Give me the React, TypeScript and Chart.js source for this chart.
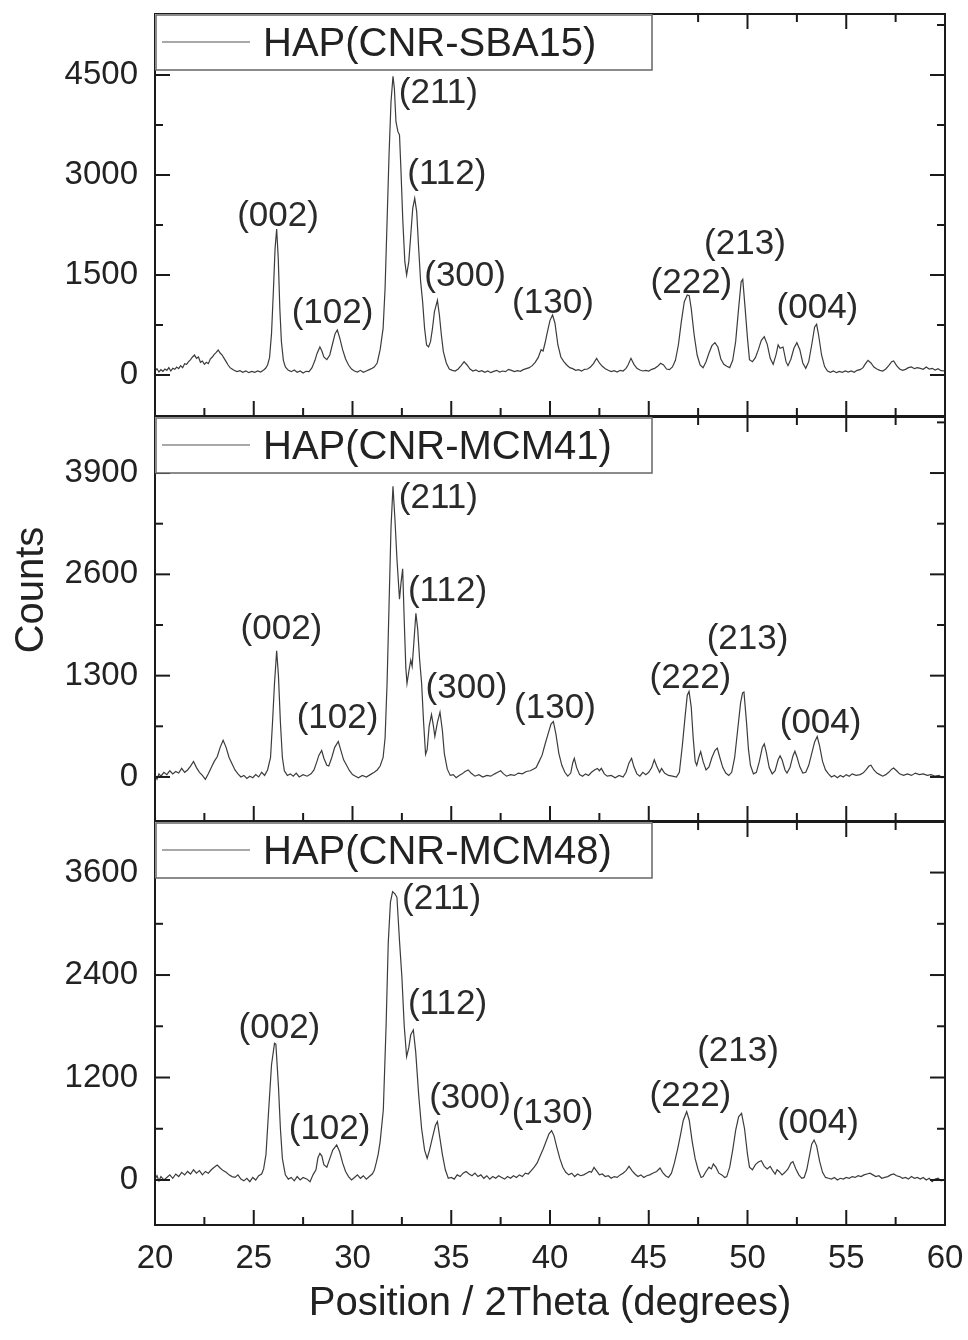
import React, { useEffect, useRef } from 'react';
import { Chart, registerables } from 'chart.js';

Chart.register(...registerables);

const FONT = "'Liberation Sans', Arial, Helvetica, sans-serif";
const TEXT_COLOR = '#222222';
const LINE_COLOR = '#3c3c3c';
const AXIS_COLOR = '#1a1a1a';

const xMajorTicks = [20, 25, 30, 35, 40, 45, 50, 55, 60];
const xMinorTicks = [22.5, 27.5, 32.5, 37.5, 42.5, 47.5, 52.5, 57.5];
const xTitle = 'Position / 2Theta (degrees)';
const yTitle = 'Counts';

const sbaYTicks = [0, 1500, 3000, 4500];
const mcm41YTicks = [0, 1300, 2600, 3900];
const mcm48YTicks = [0, 1200, 2400, 3600];

// [2theta, counts]
const sba15Points: [number, number][] = [
  [20.0,60],[20.1,95],[20.2,45],[20.3,80],[20.4,55],[20.5,90],[20.6,70],[20.7,110],[20.8,60],[20.9,100],
  [21.0,85],[21.1,120],[21.2,95],[21.3,140],[21.4,110],[21.5,170],[21.6,160],[21.7,200],[21.8,230],[21.9,270],
  [22.0,300],[22.1,250],[22.2,270],[22.3,190],[22.4,210],[22.5,160],[22.6,190],[22.7,170],[22.8,240],[22.9,270],
  [23.0,310],[23.1,340],[23.2,375],[23.3,330],[23.4,300],[23.5,250],[23.6,200],[23.7,150],[23.8,110],[23.9,90],
  [24.0,70],[24.15,50],[24.3,65],[24.45,40],[24.6,60],[24.75,35],[24.9,55],[25.05,40],[25.2,60],[25.35,45],
  [25.5,75],[25.6,100],[25.7,150],[25.8,260],[25.9,620],[26.0,1300],[26.08,1900],[26.16,2190],[26.24,1750],[26.32,1000],
  [26.4,500],[26.5,220],[26.6,120],[26.75,70],[26.9,50],[27.05,75],[27.2,40],[27.35,60],[27.5,30],[27.65,55],
  [27.8,50],[27.95,110],[28.1,220],[28.2,320],[28.35,420],[28.45,360],[28.55,270],[28.7,230],[28.85,300],[29.0,480],
  [29.12,620],[29.23,675],[29.35,560],[29.5,380],[29.65,240],[29.8,150],[29.95,90],[30.1,60],[30.25,45],[30.4,70],
  [30.55,40],[30.7,60],[30.85,80],[31.0,100],[31.1,120],[31.25,180],[31.4,380],[31.55,700],[31.65,1300],[31.75,2300],
  [31.85,3300],[31.95,4100],[32.05,4480],[32.12,4300],[32.2,3800],[32.3,3650],[32.38,3600],[32.45,3100],[32.55,2300],[32.65,1700],
  [32.74,1500],[32.85,1700],[32.95,2100],[33.05,2500],[33.15,2650],[33.25,2450],[33.35,1900],[33.45,1400],[33.55,1100],[33.65,700],
  [33.75,450],[33.85,420],[33.95,500],[34.05,700],[34.15,950],[34.3,1120],[34.4,900],[34.5,600],[34.6,350],[34.75,180],
  [34.9,90],[35.05,70],[35.2,60],[35.35,90],[35.5,140],[35.65,200],[35.8,150],[35.95,90],[36.1,60],[36.25,75],
  [36.4,50],[36.55,65],[36.7,40],[36.85,60],[37.0,35],[37.15,55],[37.3,70],[37.45,45],[37.6,60],[37.75,50],
  [37.9,85],[38.05,70],[38.2,50],[38.35,65],[38.5,55],[38.65,80],[38.8,95],[38.95,110],[39.1,140],[39.25,190],
  [39.4,260],[39.55,380],[39.65,360],[39.75,480],[39.85,620],[40.0,820],[40.13,900],[40.25,780],[40.4,450],[40.55,270],
  [40.7,200],[40.85,150],[41.0,110],[41.15,95],[41.3,70],[41.45,80],[41.6,60],[41.75,85],[41.9,90],[42.05,120],
  [42.2,170],[42.36,250],[42.5,180],[42.65,130],[42.8,95],[42.95,70],[43.1,50],[43.25,65],[43.4,45],[43.55,70],
  [43.7,60],[43.85,100],[43.95,150],[44.1,250],[44.25,160],[44.4,100],[44.55,75],[44.7,60],[44.85,70],[45.0,60],
  [45.15,85],[45.3,100],[45.45,130],[45.6,175],[45.75,150],[45.9,90],[46.05,80],[46.2,120],[46.35,220],[46.5,450],
  [46.65,800],[46.8,1100],[46.95,1200],[47.05,1190],[47.15,1000],[47.3,600],[47.45,300],[47.6,150],[47.75,110],[47.9,200],
  [48.05,330],[48.2,440],[48.35,485],[48.5,420],[48.65,240],[48.8,160],[48.95,130],[49.1,110],[49.25,220],[49.4,500],
  [49.55,1000],[49.68,1400],[49.76,1435],[49.88,1000],[50.0,550],[50.1,230],[50.25,200],[50.4,260],[50.55,380],[50.7,520],
  [50.85,575],[51.0,460],[51.15,250],[51.3,160],[51.45,310],[51.55,450],[51.65,400],[51.8,420],[51.95,200],[52.05,140],
  [52.2,240],[52.35,400],[52.5,485],[52.65,380],[52.8,180],[52.95,100],[53.1,200],[53.25,450],[53.4,720],[53.5,760],
  [53.6,600],[53.75,300],[53.9,130],[54.05,60],[54.2,40],[54.35,60],[54.5,35],[54.65,55],[54.8,40],[54.95,60],
  [55.1,45],[55.25,60],[55.4,40],[55.55,70],[55.7,80],[55.85,110],[55.95,160],[56.1,220],[56.25,180],[56.4,120],
  [56.55,90],[56.7,70],[56.85,60],[57.0,90],[57.15,140],[57.3,200],[57.4,210],[57.55,140],[57.7,90],[57.85,70],
  [58.0,85],[58.15,110],[58.3,120],[58.45,95],[58.6,110],[58.75,100],[58.9,85],[59.05,120],[59.2,90],[59.35,100],
  [59.5,75],[59.65,95],[59.8,65],[60.0,60],
];

const mcm41Points: [number, number][] = [
  [20.0,20],[20.1,-30],[20.2,40],[20.3,10],[20.45,60],[20.6,30],[20.75,80],[20.9,40],[21.05,70],[21.2,50],
  [21.35,110],[21.5,60],[21.65,90],[21.8,140],[21.95,200],[22.1,120],[22.25,60],[22.4,20],[22.55,-30],[22.7,40],
  [22.85,120],[23.0,200],[23.15,260],[23.3,380],[23.45,470],[23.6,380],[23.75,250],[23.9,170],[24.05,90],[24.2,40],
  [24.35,0],[24.5,20],[24.65,-20],[24.8,10],[24.95,-10],[25.1,30],[25.25,0],[25.4,60],[25.55,20],[25.7,90],
  [25.85,250],[25.95,700],[26.05,1200],[26.16,1620],[26.25,1300],[26.35,700],[26.45,250],[26.55,80],[26.7,20],[26.85,40],
  [27.0,10],[27.15,50],[27.3,0],[27.5,30],[27.7,10],[27.9,40],[28.05,90],[28.2,200],[28.3,280],[28.44,340],
  [28.55,240],[28.7,150],[28.8,140],[28.95,250],[29.1,380],[29.28,455],[29.4,350],[29.55,220],[29.7,150],[29.85,80],
  [30.0,30],[30.15,10],[30.3,-10],[30.5,20],[30.7,0],[30.9,30],[31.1,60],[31.25,90],[31.4,140],[31.55,250],
  [31.65,500],[31.75,1200],[31.85,2200],[31.95,3200],[32.05,3730],[32.15,3300],[32.25,2800],[32.38,2280],[32.46,2500],[32.54,2670],
  [32.62,2000],[32.7,1400],[32.76,1200],[32.85,1350],[32.95,1500],[33.02,1420],[33.1,1700],[33.21,2100],[33.3,1900],[33.4,1500],
  [33.5,1200],[33.6,700],[33.7,290],[33.78,350],[33.88,650],[34.0,800],[34.1,650],[34.17,520],[34.3,700],[34.43,830],
  [34.55,600],[34.65,300],[34.8,100],[34.95,20],[35.1,30],[35.25,-10],[35.4,20],[35.55,40],[35.7,70],[35.86,90],
  [36.0,50],[36.2,10],[36.4,30],[36.6,0],[36.8,20],[37.0,10],[37.2,40],[37.35,60],[37.5,80],[37.65,40],
  [37.8,10],[38.0,30],[38.2,20],[38.4,50],[38.6,40],[38.8,70],[39.0,80],[39.15,100],[39.3,120],[39.45,200],
  [39.6,280],[39.75,420],[39.9,550],[40.05,680],[40.17,712],[40.3,550],[40.45,300],[40.6,150],[40.75,60],[40.9,10],
  [41.05,50],[41.15,180],[41.23,240],[41.35,120],[41.5,30],[41.65,10],[41.8,40],[41.95,20],[42.1,60],[42.25,90],
  [42.4,110],[42.5,80],[42.6,110],[42.75,40],[42.9,10],[43.1,20],[43.3,-10],[43.5,20],[43.7,0],[43.85,60],
  [44.0,180],[44.13,240],[44.25,130],[44.4,40],[44.55,10],[44.7,60],[44.85,30],[45.0,60],[45.15,120],[45.28,220],
  [45.4,140],[45.55,60],[45.65,110],[45.8,50],[46.0,20],[46.2,10],[46.4,0],[46.55,60],[46.7,400],[46.85,800],
  [46.95,1050],[47.04,1098],[47.15,900],[47.25,500],[47.35,200],[47.43,150],[47.53,250],[47.63,326],[47.75,200],[47.9,90],
  [48.05,130],[48.2,250],[48.35,340],[48.47,370],[48.6,250],[48.75,120],[48.9,50],[49.05,20],[49.2,60],[49.35,250],
  [49.5,600],[49.65,950],[49.75,1080],[49.82,1090],[49.95,700],[50.05,350],[50.15,150],[50.3,40],[50.45,60],[50.6,200],
  [50.75,380],[50.85,425],[50.95,320],[51.1,120],[51.25,40],[51.4,80],[51.55,220],[51.65,270],[51.75,220],[51.9,90],
  [52.0,50],[52.15,120],[52.3,270],[52.4,330],[52.5,260],[52.65,130],[52.8,50],[52.95,60],[53.1,150],[53.25,300],
  [53.4,450],[53.53,519],[53.65,400],[53.8,200],[53.95,90],[54.1,40],[54.25,0],[54.4,20],[54.55,-10],[54.7,20],
  [54.85,0],[55.0,30],[55.15,10],[55.3,40],[55.5,20],[55.7,30],[55.85,50],[56.0,90],[56.15,140],[56.25,150],
  [56.4,90],[56.55,50],[56.7,30],[56.85,10],[57.0,30],[57.15,60],[57.3,100],[57.4,115],[57.55,80],[57.7,40],
  [57.9,20],[58.1,40],[58.3,20],[58.5,50],[58.7,30],[58.9,40],[59.1,20],[59.3,30],[59.5,10],[59.7,20],
  [59.85,-10],[60.0,10],
];

const mcm48Points: [number, number][] = [
  [20.0,10],[20.1,50],[20.2,-10],[20.3,40],[20.45,0],[20.6,30],[20.75,60],[20.9,20],[21.05,70],[21.2,40],
  [21.35,90],[21.5,60],[21.65,100],[21.8,70],[21.95,120],[22.1,80],[22.25,110],[22.4,60],[22.55,100],[22.7,80],
  [22.85,120],[23.0,150],[23.15,175],[23.3,140],[23.45,110],[23.6,90],[23.75,60],[23.9,40],[24.05,30],[24.2,60],
  [24.35,10],[24.5,-10],[24.65,20],[24.8,-20],[24.95,30],[25.1,0],[25.25,50],[25.4,70],[25.5,130],[25.62,300],
  [25.75,800],[25.9,1350],[26.05,1600],[26.12,1590],[26.25,1100],[26.35,600],[26.45,250],[26.6,60],[26.75,10],[26.9,30],
  [27.05,-10],[27.2,40],[27.35,0],[27.5,30],[27.7,10],[27.85,-20],[28.0,60],[28.15,120],[28.25,260],[28.35,312],
  [28.45,280],[28.55,180],[28.7,150],[28.85,250],[29.0,350],[29.2,410],[29.35,330],[29.5,200],[29.65,100],[29.8,40],
  [29.95,0],[30.1,30],[30.25,60],[30.4,20],[30.55,50],[30.7,10],[30.85,40],[31.0,70],[31.1,110],[31.2,200],
  [31.3,300],[31.4,450],[31.56,820],[31.7,1800],[31.81,2775],[31.92,3250],[32.03,3376],[32.15,3350],[32.25,3310],[32.38,2800],
  [32.5,2380],[32.62,1800],[32.74,1444],[32.85,1550],[32.95,1700],[33.08,1757],[33.2,1500],[33.35,1000],[33.5,600],[33.65,350],
  [33.78,254],[33.9,350],[34.05,500],[34.2,640],[34.3,683],[34.42,500],[34.55,300],[34.7,120],[34.85,20],[35.0,30],
  [35.15,10],[35.3,60],[35.45,40],[35.6,80],[35.75,100],[35.9,70],[36.05,50],[36.2,80],[36.35,40],[36.5,60],
  [36.65,20],[36.8,50],[36.95,10],[37.1,40],[37.25,20],[37.4,50],[37.55,30],[37.7,10],[37.85,40],[38.0,20],
  [38.15,50],[38.3,30],[38.45,60],[38.6,40],[38.75,80],[38.9,70],[39.05,110],[39.2,150],[39.35,200],[39.5,280],
  [39.65,360],[39.8,450],[39.95,540],[40.08,578],[40.2,520],[40.35,380],[40.5,250],[40.65,150],[40.8,90],[40.95,60],
  [41.1,80],[41.25,40],[41.4,70],[41.55,50],[41.7,60],[41.85,80],[42.0,100],[42.1,90],[42.23,148],[42.35,110],
  [42.5,60],[42.65,70],[42.8,40],[42.95,50],[43.1,20],[43.25,40],[43.4,30],[43.55,60],[43.7,80],[43.85,110],
  [44.0,160],[44.15,110],[44.3,70],[44.45,40],[44.6,60],[44.75,30],[44.9,50],[45.05,60],[45.2,80],[45.4,100],
  [45.57,140],[45.7,90],[45.85,50],[46.0,30],[46.15,80],[46.3,200],[46.45,350],[46.6,520],[46.75,700],[46.92,800],
  [47.05,700],[47.2,450],[47.35,250],[47.5,120],[47.65,30],[47.75,40],[47.9,100],[48.05,150],[48.17,130],[48.27,187],
  [48.4,150],[48.55,80],[48.7,60],[48.85,30],[48.95,40],[49.1,150],[49.25,350],[49.4,580],[49.55,740],[49.7,781],
  [49.85,600],[50.0,300],[50.1,150],[50.25,120],[50.4,180],[50.55,210],[50.7,226],[50.85,160],[51.0,130],[51.15,160],
  [51.3,100],[51.4,70],[51.5,120],[51.6,100],[51.75,60],[51.9,90],[52.05,130],[52.2,200],[52.3,215],[52.45,130],
  [52.6,60],[52.75,20],[52.87,30],[53.0,120],[53.15,300],[53.25,420],[53.37,468],[53.5,400],[53.65,220],[53.8,90],
  [53.95,30],[54.1,20],[54.25,10],[54.4,30],[54.55,0],[54.7,20],[54.85,10],[55.0,30],[55.15,20],[55.3,40],
  [55.45,30],[55.6,50],[55.75,40],[55.9,60],[56.05,70],[56.2,80],[56.35,60],[56.5,40],[56.65,50],[56.8,20],
  [56.95,30],[57.1,40],[57.25,60],[57.4,70],[57.55,50],[57.7,40],[57.85,20],[58.0,30],[58.15,10],[58.3,40],
  [58.45,20],[58.6,30],[58.75,10],[58.9,30],[59.05,0],[59.2,20],[59.35,-20],[59.5,10],[59.65,20],[59.8,-10],
  [60.0,0],
];

// peak annotations: [text, 2theta (label centre), counts (label baseline)]
const sbaPeakLabels: [string, number, number][] = [
  ['(002)', 26.23, 2235], ['(102)', 28.99, 786], ['(211)', 34.35, 4080], ['(112)', 34.78, 2860],
  ['(300)', 35.70, 1335], ['(130)', 40.15, 936], ['(222)', 47.16, 1236], ['(213)', 49.87, 1815], ['(004)', 53.54, 861],
];
const mcm41PeakLabels: [string, number, number][] = [
  ['(002)', 26.40, 1767], ['(102)', 29.24, 634], ['(211)', 34.35, 3456], ['(112)', 34.81, 2258],
  ['(300)', 35.77, 1017], ['(130)', 40.25, 762], ['(222)', 47.11, 1147], ['(213)', 50.00, 1638], ['(004)', 53.70, 570],
];
const mcm48PeakLabels: [string, number, number][] = [
  ['(002)', 26.30, 1667], ['(102)', 28.84, 477], ['(211)', 34.51, 3170], ['(112)', 34.81, 1940],
  ['(300)', 35.95, 848], ['(130)', 40.13, 672], ['(222)', 47.11, 867], ['(213)', 49.52, 1394], ['(004)', 53.57, 555],
];

const sampleNames = ['HAP(CNR-SBA15)', 'HAP(CNR-MCM41)', 'HAP(CNR-MCM48)'];

const W = 968;
const H = 1340;
const PLOT_LEFT = 155;
const PLOT_RIGHT = 945;
const LEGEND_RIGHT = 652;
const LEGEND_H = 56;

interface Panel {
  name: string;
  points: [number, number][];
  yTicks: number[];
  yMin: number;
  yMax: number;
  labels: [string, number, number][];
  top: number;
  bottom: number;
}

const panels: Panel[] = [
  { name: sampleNames[0], points: sba15Points, yTicks: sbaYTicks, yMin: -615, yMax: 5415, labels: sbaPeakLabels, top: 14, bottom: 416 },
  { name: sampleNames[1], points: mcm41Points, yTicks: mcm41YTicks, yMin: -565, yMax: 4619, labels: mcm41PeakLabels, top: 417, bottom: 821 },
  { name: sampleNames[2], points: mcm48Points, yTicks: mcm48YTicks, yMin: -527, yMax: 4192, labels: mcm48PeakLabels, top: 822, bottom: 1225 },
];

function makeDecor(p: Panel, idx: number) {
  return {
    id: 'decor' + idx,
    afterDatasetsDraw(chart: any) {
      const ctx: CanvasRenderingContext2D = chart.ctx;
      const { left, right, top, bottom } = chart.chartArea;
      const xs = chart.scales.x;
      const ys = chart.scales.y;
      ctx.save();
      ctx.strokeStyle = AXIS_COLOR;
      ctx.lineWidth = 2;
      const seg = (x1: number, y1: number, x2: number, y2: number) => {
        ctx.beginPath();
        ctx.moveTo(x1, y1);
        ctx.lineTo(x2, y2);
        ctx.stroke();
      };
      const MAJ = 15, MIN = 8;
      xMajorTicks.forEach((v) => {
        const px = xs.getPixelForValue(v);
        seg(px, bottom, px, bottom - MAJ);
        seg(px, top, px, top + MAJ);
      });
      xMinorTicks.forEach((v) => {
        const px = xs.getPixelForValue(v);
        seg(px, bottom, px, bottom - MIN);
        seg(px, top, px, top + MIN);
      });
      const step = p.yTicks[1] - p.yTicks[0];
      p.yTicks.forEach((v) => {
        const py = ys.getPixelForValue(v);
        seg(left, py, left + MAJ, py);
        seg(right, py, right - MAJ, py);
      });
      for (let v = p.yTicks[0] + step / 2; v < p.yMax; v += step) {
        const py = ys.getPixelForValue(v);
        seg(left, py, left + MIN, py);
        seg(right, py, right - MIN, py);
      }
      // frame
      ctx.lineWidth = 2;
      ctx.strokeRect(left, top, right - left, bottom - top);

      // legend box
      ctx.fillStyle = '#ffffff';
      ctx.fillRect(left, top, LEGEND_RIGHT - left, LEGEND_H);
      ctx.strokeStyle = '#666666';
      ctx.lineWidth = 1.5;
      ctx.strokeRect(left + 1, top + 1, LEGEND_RIGHT - left - 1, LEGEND_H - 1);
      ctx.strokeStyle = '#555555';
      ctx.lineWidth = 1.2;
      seg(left + 7, top + 28, left + 95, top + 28);
      ctx.fillStyle = TEXT_COLOR;
      ctx.font = `40px ${FONT}`;
      ctx.textAlign = 'left';
      ctx.textBaseline = 'alphabetic';
      ctx.fillText(p.name, left + 108, top + 42);

      // peak labels
      ctx.fillStyle = '#2a2a2a';
      ctx.font = `35px ${FONT}`;
      ctx.textAlign = 'center';
      p.labels.forEach(([t, x, y]) => {
        ctx.fillText(t, xs.getPixelForValue(x), ys.getPixelForValue(y));
      });

      if (idx === 1) {
        ctx.save();
        ctx.translate(43, 590);
        ctx.rotate(-Math.PI / 2);
        ctx.font = `40px ${FONT}`;
        ctx.fillStyle = TEXT_COLOR;
        ctx.textAlign = 'center';
        ctx.textBaseline = 'alphabetic';
        ctx.fillText(yTitle, 0, 0);
        ctx.restore();
      }
      ctx.restore();
    },
  };
}

function makeConfig(p: Panel, idx: number): any {
  const isLast = idx === panels.length - 1;
  return {
    type: 'line',
    data: {
      datasets: [
        {
          label: p.name,
          data: p.points.map(([x, y]) => ({ x, y })),
          borderColor: LINE_COLOR,
          borderWidth: 1.2,
          pointRadius: 0,
          tension: 0,
          fill: false,
        },
      ],
    },
    options: {
      animation: false,
      responsive: false,
      maintainAspectRatio: false,
      events: [],
      layout: { padding: { top: p.top, left: 0, right: W - PLOT_RIGHT, bottom: 0 } },
      plugins: { legend: { display: false }, tooltip: { enabled: false }, title: { display: false } },
      scales: {
        x: {
          type: 'linear',
          position: 'bottom',
          min: 20,
          max: 60,
          grid: { display: false, drawTicks: false },
          border: { display: false },
          ticks: {
            display: isLast,
            autoSkip: false,
            maxRotation: 0,
            padding: 14,
            color: TEXT_COLOR,
            font: { family: FONT, size: 33 },
            callback: (v: any) => String(v),
          },
          title: {
            display: isLast,
            text: xTitle,
            color: TEXT_COLOR,
            font: { family: FONT, size: 40 },
            padding: { top: 0, bottom: 12 },
          },
          afterBuildTicks: (s: any) => {
            s.ticks = xMajorTicks.map((v) => ({ value: v }));
          },
          afterFit: (s: any) => {
            s.height = H - p.bottom;
            s.paddingLeft = 0;
            s.paddingRight = 0;
          },
        },
        y: {
          type: 'linear',
          position: 'left',
          min: p.yMin,
          max: p.yMax,
          grid: { display: false, drawTicks: false },
          border: { display: false },
          ticks: {
            padding: 17,
            color: TEXT_COLOR,
            font: { family: FONT, size: 33 },
            callback: (v: any) => String(v),
          },
          afterBuildTicks: (s: any) => {
            s.ticks = p.yTicks.map((v) => ({ value: v }));
          },
          afterFit: (s: any) => {
            s.width = PLOT_LEFT;
            s.paddingTop = 0;
            s.paddingBottom = 0;
          },
        },
      },
    },
    plugins: [makeDecor(p, idx)],
  };
}

export default function App() {
  const r0 = useRef<HTMLCanvasElement>(null);
  const r1 = useRef<HTMLCanvasElement>(null);
  const r2 = useRef<HTMLCanvasElement>(null);

  useEffect(() => {
    document.body.style.margin = '0';
    const refs = [r0, r1, r2];
    const charts = panels.map((p, i) => new Chart(refs[i].current as HTMLCanvasElement, makeConfig(p, i)));
    return () => charts.forEach((c) => c.destroy());
  }, []);

  const cs: React.CSSProperties = { position: 'absolute', left: 0, top: 0, width: W, height: H };
  return (
    <div style={{ position: 'relative', width: W, height: H, background: '#ffffff' }}>
      <canvas ref={r0} width={W} height={H} style={cs} />
      <canvas ref={r1} width={W} height={H} style={cs} />
      <canvas ref={r2} width={W} height={H} style={cs} />
    </div>
  );
}
